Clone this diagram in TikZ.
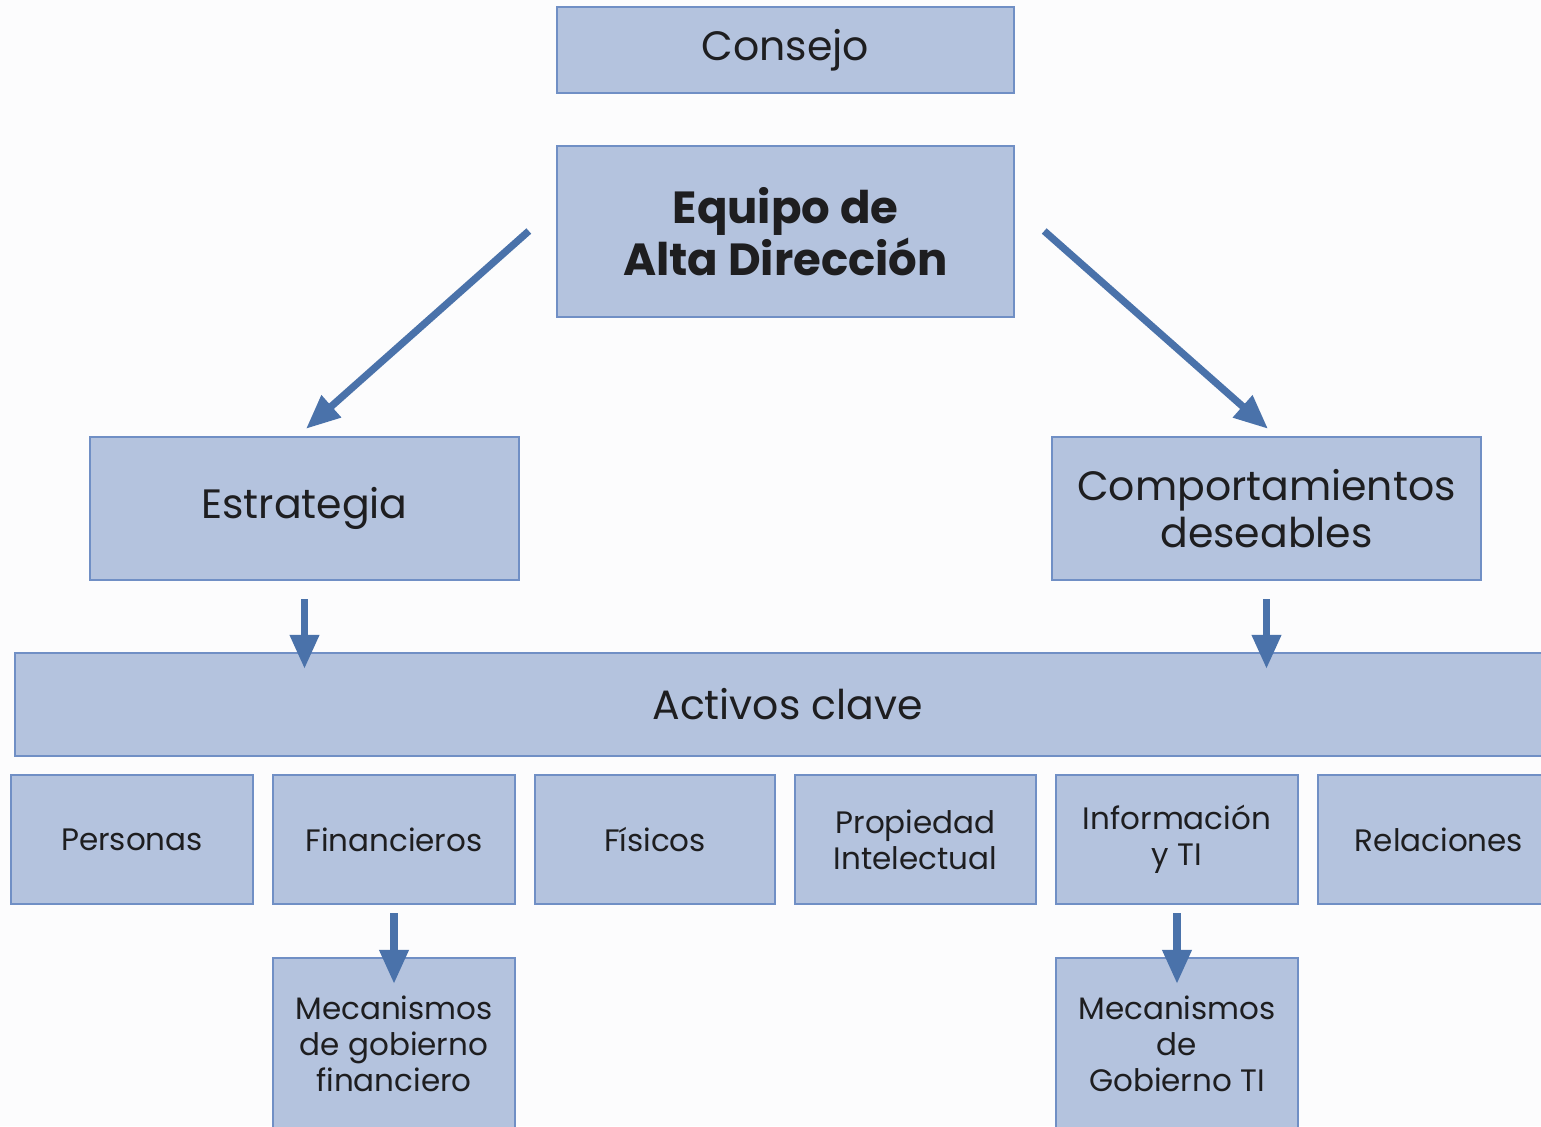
\documentclass[tikz,border=0pt]{standalone}
\usepackage{fontspec}
\setmainfont{Poppins}
\usetikzlibrary{arrows.meta,calc}
\definecolor{boxfill}{RGB}{180,195,222}
\definecolor{boxline}{RGB}{112,143,197}
\definecolor{arrowcol}{RGB}{74,114,170}
\definecolor{bgcol}{RGB}{252,252,253}
\definecolor{txt}{RGB}{30,30,32}
\tikzset{
  box/.style={draw=boxline, line width=1.2pt, fill=boxfill, inner sep=0pt, align=center, text=txt},
  bigtext/.style={font=\fontsize{20.5}{23.5}\selectfont},
  boldtext/.style={font=\fontsize{22.5}{24}\selectfont\bfseries},
  smalltext/.style={font=\fontsize{15.5}{18}\selectfont},
  rowbox/.style={box, smalltext, minimum width=121pt, minimum height=64.5pt},
  mecbox/.style={box, smalltext, minimum width=121pt, minimum height=86pt},
  arr/.style={draw=arrowcol, line width=3.6pt, -{Triangle[length=17pt,width=14pt]}}
}
\begin{document}
\begin{tikzpicture}[x=0.5pt,y=-0.5pt]
\fill[bgcol] (0,0) rectangle (1541,1126);
\useasboundingbox (0,0) rectangle (1541,1126);
\node[box, bigtext, minimum width=228.5pt, minimum height=43pt] (consejo) at (785.5,50) {Consejo};
\node[box, boldtext, minimum width=228.5pt, minimum height=85.5pt] (equipo) at (785.5,231.5) {Equipo de\\Alta Dirección};
\node[box, bigtext, minimum width=214.5pt, minimum height=71.5pt] (estrategia) at (304.5,508.5) {Estrategia};
\node[box, bigtext, minimum width=214.5pt, minimum height=71.5pt] (comport) at (1266.5,508.5) {Comportamientos\\deseables};
\node[box, bigtext, minimum width=772.5pt, minimum height=51.5pt] (activos) at (787.5,704.5) {Activos clave};
\node[rowbox] (personas) at (132,839.5) {Personas};
\node[rowbox] (financieros) at (394,839.5) {Financieros};
\node[rowbox, minimum width=120pt] (fisicos) at (655,839.5) {Físicos};
\node[rowbox, minimum width=120.5pt] (propiedad) at (915.5,839.5) {Propiedad\\Intelectual};
\node[rowbox] (informacion) at (1177,839.5) {Información\\y TI};
\node[rowbox] (relaciones) at (1439,839.5) {Relaciones};
\node[mecbox] (mecfin) at (394,1044) {Mecanismos\\de gobierno\\financiero};
\node[mecbox] (mecti) at (1177,1044) {Mecanismos\\de\\Gobierno TI};
\draw[arr] ($(equipo.west)+(-27,-0.5)$) -- ($(estrategia.north)+(1.5,-7)$);
\draw[arr] ($(equipo.east)+(29,-0.5)$) -- ($(comport.north)+(1.5,-7)$);
\draw[arr, shorten <=9pt, shorten >=-8.5pt] (estrategia.south) -- (estrategia.south |- activos.north);
\draw[arr, shorten <=9pt, shorten >=-8.5pt] (comport.south) -- (comport.south |- activos.north);
\draw[arr, shorten <=4pt, shorten >=-13.5pt] (financieros.south) -- (mecfin.north);
\draw[arr, shorten <=4pt, shorten >=-13.5pt] (informacion.south) -- (mecti.north);
\end{tikzpicture}
\end{document}
